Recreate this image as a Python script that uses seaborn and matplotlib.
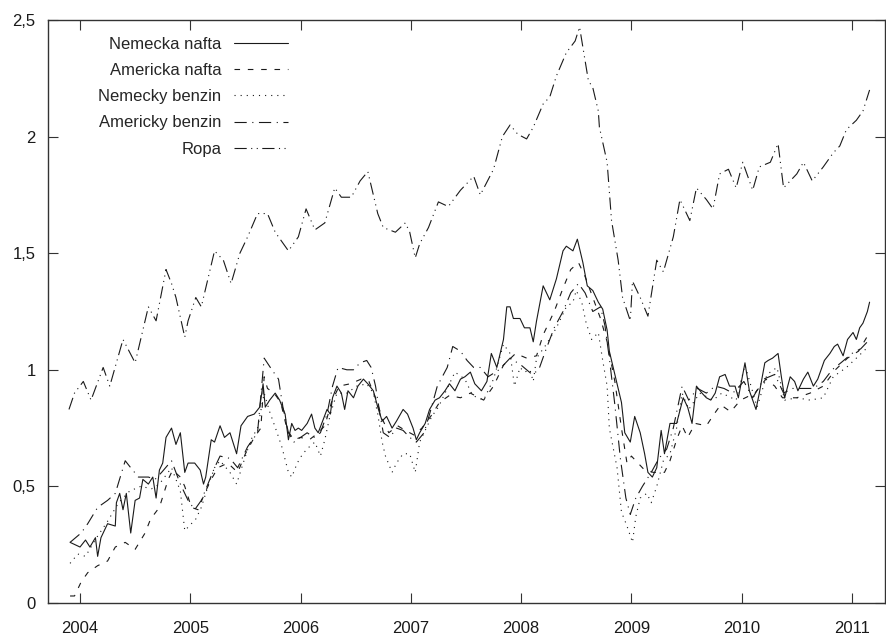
import numpy as np
import pandas as pd
import seaborn as sns
import matplotlib
matplotlib.use("Agg")
import matplotlib.pyplot as plt
from matplotlib.ticker import FuncFormatter

# == Data (decimal year, relative price) == #

nafta_de_x = [2003.91, 2004.00, 2004.05, 2004.09, 2004.14, 2004.16, 2004.19, 2004.25, 2004.32, 2004.33,
              2004.36, 2004.39, 2004.42, 2004.46, 2004.50, 2004.54, 2004.57, 2004.62, 2004.66, 2004.69,
              2004.72, 2004.75, 2004.78, 2004.83, 2004.87, 2004.91, 2004.95, 2004.98, 2005.04, 2005.09,
              2005.12, 2005.14, 2005.19, 2005.22, 2005.27, 2005.31, 2005.36, 2005.42, 2005.46, 2005.52,
              2005.58, 2005.63, 2005.66, 2005.68, 2005.72, 2005.77, 2005.81, 2005.86, 2005.89, 2005.92,
              2005.95, 2005.98, 2006.01, 2006.06, 2006.10, 2006.13, 2006.16, 2006.20, 2006.24, 2006.27,
              2006.29, 2006.33, 2006.37, 2006.40, 2006.43, 2006.48, 2006.52, 2006.57, 2006.61, 2006.66,
              2006.70, 2006.74, 2006.78, 2006.83, 2006.87, 2006.93, 2006.97, 2007.02, 2007.05, 2007.08,
              2007.13, 2007.17, 2007.22, 2007.26, 2007.31, 2007.35, 2007.40, 2007.45, 2007.49, 2007.54,
              2007.58, 2007.64, 2007.69, 2007.73, 2007.78, 2007.84, 2007.87, 2007.90, 2007.93, 2007.99,
              2008.03, 2008.08, 2008.11, 2008.14, 2008.20, 2008.26, 2008.32, 2008.38, 2008.41, 2008.47,
              2008.51, 2008.56, 2008.60, 2008.65, 2008.70, 2008.74, 2008.78, 2008.80, 2008.87, 2008.91,
              2008.94, 2008.99, 2009.03, 2009.08, 2009.12, 2009.15, 2009.19, 2009.23, 2009.27, 2009.30,
              2009.35, 2009.41, 2009.47, 2009.51, 2009.55, 2009.59, 2009.64, 2009.68, 2009.72, 2009.76,
              2009.80, 2009.85, 2009.89, 2009.94, 2009.97, 2010.03, 2010.07, 2010.13, 2010.16, 2010.21,
              2010.24, 2010.28, 2010.33, 2010.36, 2010.39, 2010.44, 2010.48, 2010.51, 2010.56, 2010.60,
              2010.65, 2010.69, 2010.75, 2010.80, 2010.84, 2010.87, 2010.92, 2010.96, 2011.01, 2011.04,
              2011.07, 2011.10, 2011.14, 2011.16]
nafta_de_y = [0.26, 0.24, 0.27, 0.24, 0.28, 0.20, 0.28, 0.34, 0.33, 0.43,
              0.47, 0.40, 0.47, 0.30, 0.44, 0.45, 0.53, 0.51, 0.54, 0.45,
              0.57, 0.60, 0.71, 0.75, 0.68, 0.73, 0.56, 0.60, 0.60, 0.57,
              0.51, 0.54, 0.70, 0.69, 0.76, 0.71, 0.73, 0.64, 0.76, 0.80,
              0.81, 0.84, 0.94, 0.84, 0.87, 0.90, 0.87, 0.81, 0.70, 0.77,
              0.74, 0.75, 0.74, 0.77, 0.81, 0.75, 0.73, 0.78, 0.83, 0.81,
              0.88, 0.93, 0.90, 0.83, 0.91, 0.88, 0.93, 0.96, 0.94, 0.91,
              0.84, 0.78, 0.80, 0.75, 0.78, 0.83, 0.81, 0.75, 0.70, 0.73,
              0.77, 0.83, 0.87, 0.88, 0.91, 0.94, 0.91, 0.96, 0.97, 0.99,
              0.94, 0.91, 0.95, 1.07, 1.01, 1.13, 1.27, 1.27, 1.22, 1.22,
              1.18, 1.18, 1.12, 1.21, 1.36, 1.30, 1.39, 1.51, 1.53, 1.51,
              1.56, 1.46, 1.36, 1.34, 1.29, 1.26, 1.17, 1.08, 0.94, 0.86,
              0.73, 0.69, 0.80, 0.73, 0.64, 0.56, 0.54, 0.58, 0.74, 0.64,
              0.77, 0.77, 0.88, 0.84, 0.77, 0.93, 0.90, 0.88, 0.87, 0.90,
              0.97, 0.98, 0.93, 0.93, 0.88, 1.03, 0.91, 0.83, 0.90, 1.03,
              1.04, 1.05, 1.07, 0.97, 0.88, 0.97, 0.95, 0.91, 0.96, 0.99,
              0.93, 0.96, 1.04, 1.07, 1.10, 1.11, 1.06, 1.13, 1.16, 1.13,
              1.18, 1.20, 1.25, 1.29]

nafta_us_x = [2003.91, 2003.95, 2004.01, 2004.07, 2004.16, 2004.25, 2004.32, 2004.41, 2004.50, 2004.59,
              2004.64, 2004.72, 2004.80, 2004.84, 2004.91, 2004.95, 2005.01, 2005.07, 2005.13, 2005.19,
              2005.25, 2005.34, 2005.43, 2005.50, 2005.58, 2005.64, 2005.67, 2005.70, 2005.76, 2005.82,
              2005.88, 2005.94, 2006.00, 2006.08, 2006.16, 2006.22, 2006.28, 2006.35, 2006.45, 2006.55,
              2006.62, 2006.68, 2006.75, 2006.80, 2006.88, 2006.95, 2007.03, 2007.10, 2007.18, 2007.26,
              2007.35, 2007.45, 2007.54, 2007.66, 2007.75, 2007.84, 2007.95, 2008.05, 2008.14, 2008.20,
              2008.30, 2008.38, 2008.45, 2008.52, 2008.58, 2008.65, 2008.72, 2008.78, 2008.85, 2008.91,
              2008.96, 2009.00, 2009.06, 2009.12, 2009.20, 2009.30, 2009.35, 2009.41, 2009.46, 2009.51,
              2009.58, 2009.68, 2009.75, 2009.81, 2009.90, 2009.99, 2010.12, 2010.22, 2010.30, 2010.37,
              2010.50, 2010.62, 2010.74, 2010.85, 2010.96, 2011.06, 2011.16]
nafta_us_y = [0.03, 0.03, 0.09, 0.13, 0.16, 0.18, 0.24, 0.26, 0.23, 0.30,
              0.36, 0.41, 0.53, 0.57, 0.54, 0.50, 0.41, 0.40, 0.47, 0.53,
              0.58, 0.60, 0.56, 0.64, 0.71, 0.75, 0.97, 0.92, 0.90, 0.86,
              0.74, 0.70, 0.71, 0.70, 0.73, 0.76, 0.86, 0.93, 0.94, 0.96,
              0.95, 0.88, 0.78, 0.73, 0.76, 0.74, 0.72, 0.75, 0.80, 0.86,
              0.89, 0.88, 0.90, 0.87, 0.93, 1.02, 1.07, 1.05, 1.06, 1.15,
              1.25, 1.35, 1.43, 1.46, 1.40, 1.31, 1.22, 1.12, 0.95, 0.75,
              0.60, 0.63, 0.60, 0.57, 0.56, 0.56, 0.61, 0.70, 0.76, 0.71,
              0.77, 0.76, 0.81, 0.85, 0.82, 0.87, 0.90, 0.96, 0.93, 0.88,
              0.88, 0.90, 0.93, 1.00, 1.05, 1.08, 1.16]

benzin_de_x = [2003.91, 2003.98, 2004.05, 2004.15, 2004.25, 2004.35, 2004.45, 2004.55, 2004.65, 2004.72,
               2004.83, 2004.87, 2004.91, 2004.95, 2005.01, 2005.05, 2005.10, 2005.16, 2005.22, 2005.27,
               2005.36, 2005.42, 2005.48, 2005.55, 2005.61, 2005.67, 2005.72, 2005.78, 2005.83, 2005.89,
               2005.92, 2005.97, 2006.02, 2006.08, 2006.13, 2006.18, 2006.22, 2006.27, 2006.33, 2006.42,
               2006.51, 2006.60, 2006.66, 2006.70, 2006.74, 2006.77, 2006.83, 2006.87, 2006.93, 2006.99,
               2007.04, 2007.08, 2007.14, 2007.19, 2007.25, 2007.31, 2007.40, 2007.49, 2007.56, 2007.66,
               2007.75, 2007.84, 2007.90, 2007.94, 2007.99, 2008.03, 2008.08, 2008.11, 2008.14, 2008.23,
               2008.32, 2008.41, 2008.47, 2008.50, 2008.55, 2008.59, 2008.64, 2008.70, 2008.74, 2008.78,
               2008.80, 2008.87, 2008.91, 2008.96, 2009.01, 2009.04, 2009.08, 2009.14, 2009.18, 2009.23,
               2009.29, 2009.35, 2009.41, 2009.46, 2009.52, 2009.62, 2009.74, 2009.82, 2009.95, 2010.03,
               2010.14, 2010.23, 2010.32, 2010.39, 2010.50, 2010.62, 2010.74, 2010.83, 2010.95, 2011.04,
               2011.15]
benzin_de_y = [0.17, 0.21, 0.20, 0.28, 0.35, 0.43, 0.48, 0.50, 0.49, 0.51,
               0.58, 0.53, 0.48, 0.31, 0.34, 0.36, 0.41, 0.50, 0.58, 0.61,
               0.56, 0.51, 0.60, 0.70, 0.75, 0.90, 0.82, 0.74, 0.67, 0.56,
               0.54, 0.60, 0.64, 0.67, 0.69, 0.63, 0.70, 0.81, 0.90, 0.90,
               0.93, 0.94, 0.90, 0.81, 0.69, 0.63, 0.56, 0.60, 0.64, 0.64,
               0.56, 0.69, 0.75, 0.80, 0.84, 0.90, 0.99, 0.96, 0.89, 0.87,
               0.96, 1.11, 1.07, 0.93, 1.01, 0.99, 1.00, 0.95, 1.05, 1.11,
               1.18, 1.27, 1.29, 1.34, 1.29, 1.20, 1.13, 1.16, 1.04, 0.93,
               0.75, 0.58, 0.39, 0.33, 0.26, 0.37, 0.45, 0.47, 0.43, 0.50,
               0.61, 0.64, 0.75, 0.90, 0.83, 0.90, 0.87, 0.90, 0.87, 1.02,
               0.84, 0.98, 1.01, 0.87, 0.88, 0.87, 0.88, 0.97, 1.01, 1.05,
               1.10]

benzin_us_x = [2003.91, 2004.01, 2004.07, 2004.16, 2004.25, 2004.32, 2004.41, 2004.46, 2004.53, 2004.62,
               2004.68, 2004.74, 2004.83, 2004.91, 2004.98, 2005.04, 2005.10, 2005.16, 2005.22, 2005.27,
               2005.36, 2005.43, 2005.52, 2005.61, 2005.67, 2005.74, 2005.80, 2005.84, 2005.89, 2005.94,
               2006.00, 2006.06, 2006.12, 2006.18, 2006.24, 2006.29, 2006.34, 2006.42, 2006.48, 2006.54,
               2006.60, 2006.64, 2006.68, 2006.72, 2006.75, 2006.81, 2006.87, 2006.93, 2006.99, 2007.05,
               2007.12, 2007.17, 2007.24, 2007.33, 2007.38, 2007.45, 2007.51, 2007.57, 2007.63, 2007.70,
               2007.80, 2007.90, 2008.00, 2008.10, 2008.16, 2008.22, 2008.30, 2008.38, 2008.45, 2008.52,
               2008.58, 2008.65, 2008.72, 2008.76, 2008.80, 2008.85, 2008.90, 2008.95, 2008.99, 2009.04,
               2009.10, 2009.18, 2009.25, 2009.32, 2009.38, 2009.46, 2009.52, 2009.60, 2009.68, 2009.76,
               2009.84, 2009.92, 2010.02, 2010.10, 2010.20, 2010.30, 2010.38, 2010.46, 2010.55, 2010.65,
               2010.74, 2010.82, 2010.90, 2011.00, 2011.08, 2011.16]
benzin_us_y = [0.26, 0.30, 0.34, 0.41, 0.44, 0.47, 0.61, 0.58, 0.54, 0.54,
               0.53, 0.56, 0.61, 0.51, 0.44, 0.40, 0.44, 0.51, 0.58, 0.63,
               0.62, 0.58, 0.67, 0.73, 1.05, 1.00, 0.96, 0.84, 0.73, 0.69,
               0.71, 0.73, 0.71, 0.73, 0.81, 0.93, 1.01, 1.00, 1.00, 1.03,
               1.04, 1.01, 0.93, 0.81, 0.73, 0.71, 0.75, 0.74, 0.71, 0.69,
               0.73, 0.81, 0.93, 1.01, 1.10, 1.08, 1.04, 1.01, 1.01, 0.97,
               1.00, 1.05, 1.02, 0.98, 1.00, 1.08, 1.18, 1.25, 1.33, 1.37,
               1.33, 1.25, 1.27, 1.19, 1.05, 0.85, 0.62, 0.45, 0.38, 0.45,
               0.50, 0.56, 0.62, 0.66, 0.75, 0.93, 0.87, 0.92, 0.90, 0.93,
               0.92, 0.90, 0.95, 0.88, 0.96, 0.98, 0.90, 0.92, 0.92, 0.92,
               0.95, 1.00, 1.03, 1.07, 1.09, 1.13]

ropa_x = [2003.90, 2003.95, 2004.03, 2004.10, 2004.21, 2004.27, 2004.39, 2004.50, 2004.62, 2004.69,
          2004.78, 2004.83, 2004.87, 2004.95, 2004.98, 2005.05, 2005.10, 2005.22, 2005.30, 2005.37,
          2005.45, 2005.52, 2005.61, 2005.70, 2005.77, 2005.89, 2005.98, 2006.05, 2006.13, 2006.22,
          2006.31, 2006.37, 2006.46, 2006.54, 2006.61, 2006.70, 2006.75, 2006.86, 2006.95, 2006.99,
          2007.04, 2007.08, 2007.16, 2007.25, 2007.34, 2007.45, 2007.57, 2007.63, 2007.75, 2007.83,
          2007.90, 2007.97, 2008.05, 2008.11, 2008.20, 2008.26, 2008.32, 2008.41, 2008.49, 2008.53,
          2008.61, 2008.65, 2008.70, 2008.71, 2008.78, 2008.82, 2008.88, 2008.92, 2008.99, 2009.01,
          2009.08, 2009.15, 2009.23, 2009.29, 2009.38, 2009.44, 2009.53, 2009.59, 2009.68, 2009.74,
          2009.80, 2009.88, 2009.95, 2010.01, 2010.10, 2010.16, 2010.26, 2010.33, 2010.38, 2010.50,
          2010.56, 2010.64, 2010.74, 2010.83, 2010.89, 2010.95, 2011.04, 2011.10, 2011.16]
ropa_y = [0.83, 0.90, 0.95, 0.87, 1.01, 0.93, 1.13, 1.03, 1.27, 1.21,
          1.43, 1.37, 1.31, 1.14, 1.21, 1.31, 1.27, 1.51, 1.47, 1.37,
          1.50, 1.57, 1.67, 1.67, 1.59, 1.51, 1.57, 1.69, 1.60, 1.63,
          1.78, 1.74, 1.74, 1.81, 1.85, 1.67, 1.61, 1.59, 1.63, 1.59,
          1.48, 1.54, 1.61, 1.72, 1.70, 1.77, 1.83, 1.75, 1.86, 2.00,
          2.05, 2.01, 1.99, 2.04, 2.14, 2.17, 2.26, 2.36, 2.41, 2.47,
          2.24, 2.21, 2.11, 2.04, 1.89, 1.64, 1.47, 1.31, 1.21, 1.38,
          1.31, 1.23, 1.47, 1.42, 1.57, 1.73, 1.64, 1.78, 1.73, 1.69,
          1.84, 1.86, 1.78, 1.89, 1.77, 1.87, 1.89, 1.97, 1.78, 1.84,
          1.89, 1.81, 1.87, 1.93, 1.96, 2.03, 2.07, 2.11, 2.20]

series = [
    ("Nemecka nafta", nafta_de_x, nafta_de_y, "-"),
    ("Americka nafta", nafta_us_x, nafta_us_y, (0, (5, 7))),
    ("Nemecky benzin", benzin_de_x, benzin_de_y, (0, (1, 4.5))),
    ("Americky benzin", benzin_us_x, benzin_us_y, (0, (11, 5, 1, 5))),
    ("Ropa", ropa_x, ropa_y, (0, (11, 4, 1, 4, 1, 4))),
]

year_ticks = [2004, 2005, 2006, 2007, 2008, 2009, 2010, 2011]
value_ticks = [0, 0.5, 1, 1.5, 2, 2.5]

# == Plot == #

sns.set_style("ticks")
plt.rcParams['font.family'] = ['Liberation Sans', 'DejaVu Sans']
plt.rcParams['xtick.direction'] = 'in'
plt.rcParams['ytick.direction'] = 'in'

fig = plt.figure(figsize=(8.86, 6.41), dpi=100)
ax = fig.add_axes([0.0542, 0.0593, 0.9447, 0.9095])

for name, xs, ys, ls in series:
    sns.lineplot(x=xs, y=ys, ax=ax, color='#1a1a1a', linewidth=0.8,
                 linestyle=ls, label=name, errorbar=None)

ax.set_xlim(2003.71, 2011.30)
ax.set_ylim(0, 2.5)
ax.set_xticks(year_ticks)
ax.set_yticks(value_ticks)
ax.yaxis.set_major_formatter(FuncFormatter(lambda v, p: ('%g' % v).replace('.', ',')))
ax.tick_params(axis='both', which='major', length=7, width=0.8, labelsize=12,
               top=True, right=True, color='#333333', labelcolor='#1a1a1a')
ax.tick_params(axis='x', pad=13)
ax.tick_params(axis='y', pad=9)
for sp in ax.spines.values():
    sp.set_linewidth(1.0)
    sp.set_color('#333333')
ax.set_xlabel('')
ax.set_ylabel('')

# gnuplot-style key: labels right-aligned, samples on the right
ax.legend(loc='upper right', bbox_to_anchor=(0.2867, 0.971), frameon=False,
          markerfirst=False, fontsize=12, handlelength=3.25, handletextpad=0.75,
          labelspacing=0.67, borderpad=0, borderaxespad=0)

fig.savefig('out.png', dpi=100)
